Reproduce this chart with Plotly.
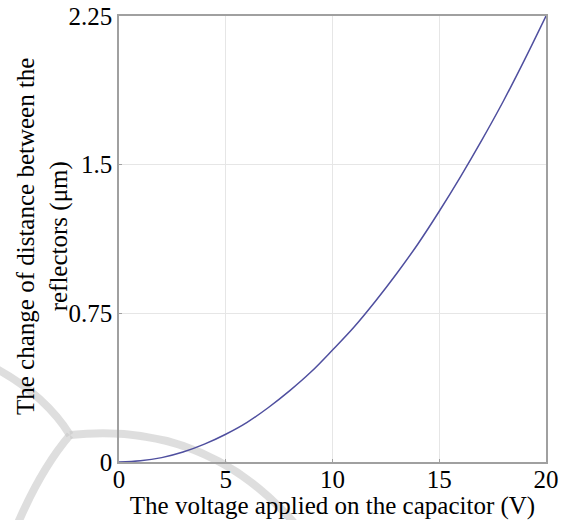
import plotly.graph_objects as go

voltage = [0, 1, 2, 3, 4, 5, 6, 7, 8, 9, 10, 11, 12, 13, 14, 15, 16, 17, 18, 19, 20]
distance = [0, 0.006, 0.022, 0.05, 0.09, 0.14, 0.2, 0.275, 0.36, 0.455, 0.565,
            0.68, 0.81, 0.95, 1.1, 1.265, 1.44, 1.625, 1.82, 2.03, 2.25]
x_ticks = [0, 5, 10, 15, 20]
y_ticks = [0, 0.75, 1.5, 2.25]
y_tick_text = ["0", "0.75", "1.5", "2.25"]
x_title = "The voltage applied on the capacitor (V)"
y_title = "The change of distance between the<br>reflectors (μm)"

W, H = 565, 520
L, R, T, B = 119, 19, 16, 58
pw, ph = W - L - R, H - T - B

def px(x, y):
    return (x - L) / pw, (H - B - y) / ph

def path(points):
    s = ""
    for cmd, pts in points:
        s += cmd + " " + " ".join("%.4f,%.4f" % px(a, b) for a, b in pts) + " "
    return s

fig = go.Figure()
fig.add_trace(go.Scatter(x=voltage, y=distance, mode="lines",
                         line=dict(color="#4f4f9f", width=1.5, shape="spline"),
                         showlegend=False, hoverinfo="skip"))

wm = "rgba(200,200,200,0.6)"
fig.add_shape(type="path", xref="paper", yref="paper", layer="below",
              path=path([("M", [(-5, 368)]), ("Q", [(45, 395), (70, 435)])]),
              line=dict(color=wm, width=8))
fig.add_shape(type="path", xref="paper", yref="paper", layer="below",
              path=path([("M", [(70, 435)]), ("Q", [(210, 420), (300, 530)])]),
              line=dict(color=wm, width=8))
fig.add_shape(type="path", xref="paper", yref="paper", layer="below",
              path=path([("M", [(70, 435)]), ("Q", [(40, 470), (15, 530)])]),
              line=dict(color=wm, width=8))

font = dict(family="Liberation Serif, Times New Roman, serif", size=25, color="#000")

tx, ty = px(42, 237)
fig.add_annotation(text=y_title, xref="paper", yref="paper", x=tx, y=ty,
                   xanchor="center", yanchor="middle", textangle=-90,
                   showarrow=False, font=font)

fig.update_layout(
    width=W, height=H,
    margin=dict(l=L, r=R, t=T, b=B, autoexpand=False),
    paper_bgcolor="white", plot_bgcolor="white",
    font=font,
    xaxis=dict(range=[0, 20], tickvals=x_ticks, showgrid=True, gridcolor="#e6e6e6",
               showline=True, linecolor="#a0a0a0", linewidth=1.5, mirror=True,
               ticks="inside", ticklen=3, tickcolor="#a0a0a0", zeroline=False,
               tickfont=font, automargin=False, ticklabelstandoff=-6,
               title=dict(text=x_title, font=font, standoff=0)),
    yaxis=dict(range=[0, 2.25], tickvals=y_ticks, ticktext=y_tick_text, showgrid=True,
               gridcolor="#e6e6e6", showline=True, linecolor="#a0a0a0", linewidth=1.5,
               mirror=True, ticks="inside", ticklen=3, tickcolor="#a0a0a0", zeroline=False,
               tickfont=font, automargin=False),
)
fig.write_html("out.html")
